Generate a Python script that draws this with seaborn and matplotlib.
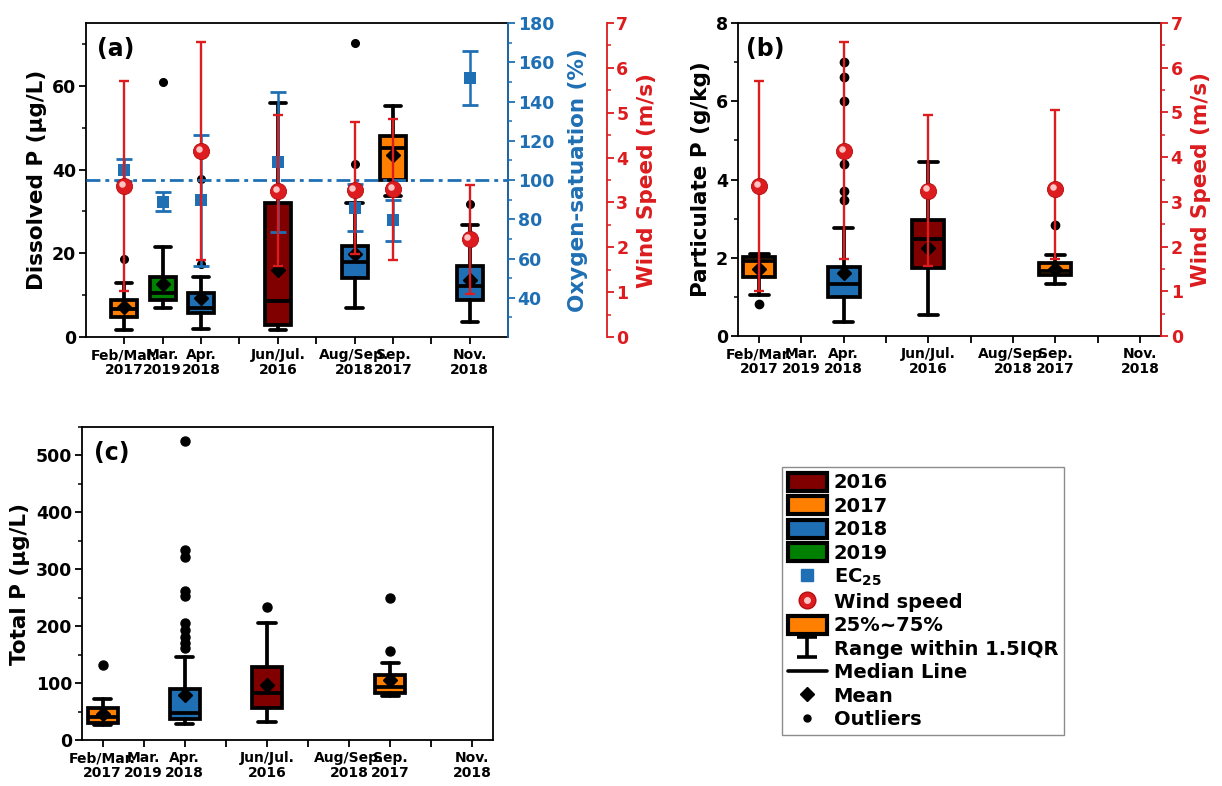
import numpy as np
import pandas as pd
import matplotlib
matplotlib.use("Agg")
import matplotlib.pyplot as plt
from matplotlib.path import Path
from matplotlib.patches import Patch
from matplotlib.lines import Line2D
from matplotlib.legend_handler import HandlerTuple
from matplotlib.ticker import MultipleLocator, FixedLocator
from matplotlib.transforms import ScaledTranslation
import seaborn as sns

# ---------------------------------------------------------------- data
period_names = ["Feb/Mar.\n2017", "Mar.\n2019", "Apr.\n2018", "Jun/Jul.\n2016",
                "Aug/Sep.\n2018", "Sep.\n2017", "Nov.\n2018"]
period_slots = [1, 2, 3, 5, 7, 8, 10]
year_colors = {2016: "#800000", 2017: "#ff8000", 2018: "#1f6fb4", 2019: "#008000"}

# (a) dissolved P, ug/L
dp_periods = period_names
dp_years = [2017, 2019, 2018, 2016, 2018, 2017, 2018]
dp_q1 = [4.9, 8.9, 5.7, 2.9, 14.2, 37.6, 8.8]
dp_med = [6.6, 10.5, 6.9, 8.6, 18.0, 45.1, 12.2]
dp_q3 = [8.8, 14.4, 10.6, 32.1, 21.8, 47.9, 17.0]
dp_mean = [7.2, 12.6, 9.4, 16.0, 19.8, 43.5, 13.6]
dp_low = [1.7, 6.9, 1.9, 1.8, 7.0, 33.6, 3.7]
dp_high = [12.8, 21.5, 14.4, 56.0, 32.0, 55.2, 26.7]
dp_outliers = [[18.6], [61.0], [17.5, 37.7], [], [41.3, 70.2], [], [31.8]]

# (a) EC25 oxygen saturation, %
ec_periods = period_names
ec_mean = [105.0, 89.0, 89.6, 109.2, 86.0, 79.4, 152.0]
ec_err = [5.5, 5.0, 33.5, 35.5, 12.0, 10.3, 14.0]

# (a) wind speed, m/s
wind_a_periods = ["Feb/Mar.\n2017", "Apr.\n2018", "Jun/Jul.\n2016",
                  "Aug/Sep.\n2018", "Sep.\n2017", "Nov.\n2018"]
wind_a_mean = [3.36, 4.14, 3.25, 3.27, 3.29, 2.19]
wind_a_low = [1.03, 1.72, 1.59, 1.85, 1.72, 0.95]
wind_a_high = [5.70, 6.57, 4.94, 4.80, 4.86, 3.40]

# (b) particulate P, g/kg
pp_periods = ["Feb/Mar.\n2017", "Apr.\n2018", "Jun/Jul.\n2016", "Sep.\n2017"]
pp_years = [2017, 2018, 2016, 2017]
pp_q1 = [1.52, 1.01, 1.75, 1.56]
pp_med = [1.92, 1.32, 2.47, 1.66]
pp_q3 = [2.03, 1.77, 2.97, 1.86]
pp_mean = [1.72, 1.62, 2.25, 1.72]
pp_low = [1.06, 0.37, 0.54, 1.33]
pp_high = [2.10, 2.77, 4.44, 2.07]
pp_outliers = [[0.82], [3.48, 3.71, 4.39, 6.0, 6.61, 7.0], [], [2.84]]

# (b) wind speed, m/s
wind_b_periods = pp_periods
wind_b_mean = [3.35, 4.14, 3.25, 3.29]
wind_b_low = [1.01, 1.72, 1.57, 1.73]
wind_b_high = [5.70, 6.58, 4.95, 5.06]

# (c) total P, ug/L
tp_periods = pp_periods
tp_years = [2017, 2018, 2016, 2017]
tp_q1 = [30.4, 36.3, 55.6, 83.0]
tp_med = [41.0, 48.0, 81.9, 93.6]
tp_q3 = [55.6, 88.9, 128.7, 114.0]
tp_mean = [45.6, 79.0, 96.5, 106.0]
tp_low = [26.3, 28.0, 31.0, 77.8]
tp_high = [71.3, 146.0, 206.4, 134.5]
tp_outliers = [[131.6], [161, 170, 181, 193, 206, 253, 262, 321, 334, 525],
               [234], [156.7, 249.7]]

# ---------------------------------------------------------------- style
sns.set_theme(style="ticks")
plt.rcParams.update({
    "font.family": ["DejaVu Sans"],
    "font.weight": "bold",
    "axes.labelweight": "bold",
    "mathtext.fontset": "custom",
    "mathtext.rm": "DejaVu Sans:bold",
    "mathtext.it": "DejaVu Sans:bold",
    "mathtext.bf": "DejaVu Sans:bold",
    "axes.linewidth": 1.3,
    "axes.edgecolor": "black",
    "axes.labelcolor": "black",
    "text.color": "black",
    "xtick.color": "black",
    "ytick.color": "black",
    "xtick.labelcolor": "black",
    "ytick.labelcolor": "black",
})

BLUE = "#1f6fb4"
RED = "#dc1c1f"
LABEL_SIZE = 15.5
TICK_SIZE = 12.5
slot_of = dict(zip(period_names, period_slots))

fig = plt.figure(figsize=(12.22, 7.86), dpi=100)
ax_a = fig.add_axes([0.0704, 0.5712, 0.3453, 0.3995])
ax_b = fig.add_axes([0.6039, 0.5725, 0.3462, 0.3982])
ax_c = fig.add_axes([0.0671, 0.0585, 0.3363, 0.3982])


def draw_boxes(ax, periods, years, q1, med, q3, mean, low, high, outliers,
               width, capw, flier_size):
    stats = [dict(q1=a, med=b, q3=c, mean=d, whislo=e, whishi=f, fliers=g)
             for a, b, c, d, e, f, g in zip(q1, med, q3, mean, low, high, outliers)]
    lw = 2.7
    art = ax.bxp(stats, positions=[slot_of[p] for p in periods], widths=width,
                 capwidths=capw, patch_artist=True, showmeans=True,
                 manage_ticks=False,
                 boxprops=dict(edgecolor="black", linewidth=lw),
                 medianprops=dict(color="black", linewidth=lw),
                 whiskerprops=dict(color="black", linewidth=lw),
                 capprops=dict(color="black", linewidth=lw),
                 meanprops=dict(marker="D", markerfacecolor="black",
                                markeredgecolor="black", markersize=7),
                 flierprops=dict(marker="o", markerfacecolor="black",
                                 markeredgecolor="black", markersize=flier_size))
    for patch, yr in zip(art["boxes"], years):
        patch.set_facecolor(year_colors[yr])
    return art


def style_x(ax, lo, hi):
    ax.set_xlim(lo, hi)
    ax.xaxis.set_major_locator(FixedLocator(range(1, 11)))
    labels = [""] * 10
    for name, slot in zip(period_names, period_slots):
        labels[slot - 1] = name
    ax.set_xticklabels(labels, fontsize=10, fontweight="bold", linespacing=1.05,
                       color="black")
    ax.tick_params(axis="x", direction="out", length=5, width=1.3, pad=3)
    ax.set_xlabel("")


def style_y(ax, color="black"):
    ax.tick_params(axis="y", which="major", direction="out", length=5, width=1.3,
                   labelsize=TICK_SIZE, colors=color, pad=2)
    ax.tick_params(axis="y", which="minor", direction="out", length=3, width=1.1,
                   colors=color)
    for lab in ax.get_yticklabels():
        lab.set_fontweight("bold")


def wind_layer(ax, periods, mean, low, high):
    xs = [slot_of[p] for p in periods]
    mean = np.asarray(mean)
    err = [mean - np.asarray(low), np.asarray(high) - mean]
    ax.errorbar(xs, mean, yerr=err, fmt="none", ecolor=RED, elinewidth=1.7,
                capsize=3.5, capthick=1.7, zorder=4)
    df = pd.DataFrame({"slot": xs, "speed": mean})
    sns.scatterplot(data=df, x="slot", y="speed", ax=ax, color=RED, s=135,
                    edgecolor="#b30d10", linewidth=0.6, zorder=5, legend=False)
    shine = ax.transData + ScaledTranslation(-1.6 / 72, 1.6 / 72, fig.dpi_scale_trans)
    ax.scatter(xs, mean, s=22, color="#ffc4c4", linewidth=0, zorder=6,
               transform=shine)
    ax.set_xlabel("")


def wind_axis(ax):
    ax.set_ylim(0, 7)
    ax.yaxis.set_major_locator(MultipleLocator(1))
    ax.yaxis.set_minor_locator(MultipleLocator(0.5))
    style_y(ax, RED)
    ax.set_ylabel("Wind Speed (m/s)", color=RED, fontsize=LABEL_SIZE,
                  fontweight="bold", labelpad=6)
    for s in ("left", "top", "bottom"):
        ax.spines[s].set_visible(False)
    ax.spines["right"].set_color(RED)
    ax.spines["right"].set_linewidth(1.3)


# ---------------------------------------------------------------- panel (a)
draw_boxes(ax_a, dp_periods, dp_years, dp_q1, dp_med, dp_q3, dp_mean, dp_low,
           dp_high, dp_outliers, width=0.68, capw=0.42, flier_size=5.5)
ax_a.set_ylim(0, 75)
ax_a.yaxis.set_major_locator(MultipleLocator(20))
ax_a.yaxis.set_minor_locator(MultipleLocator(10))
style_x(ax_a, 0, 11)
style_y(ax_a)
ax_a.set_ylabel("Dissolved P (\u03bcg/L)", fontsize=LABEL_SIZE, fontweight="bold",
                labelpad=4)
ax_a.text(0.025, 0.955, "(a)", transform=ax_a.transAxes, fontsize=17,
          fontweight="bold", va="top", ha="left")

ax_o = ax_a.twinx()
ax_o.axhline(100, color=BLUE, linewidth=2.0, dashes=(5, 1.8, 1.4, 1.8), zorder=2)
ec_x = [slot_of[p] for p in ec_periods]
ax_o.errorbar(ec_x, ec_mean, yerr=ec_err, fmt="none", ecolor=BLUE, elinewidth=1.8,
              capsize=5.5, capthick=2.0, zorder=3)
sns.scatterplot(data=pd.DataFrame({"slot": ec_x, "ec": ec_mean}), x="slot", y="ec",
                ax=ax_o, marker="s", color=BLUE, s=80, linewidth=0, zorder=3,
                legend=False)
ax_o.set_ylim(20, 180)
ax_o.yaxis.set_major_locator(FixedLocator(range(40, 181, 20)))
ax_o.yaxis.set_minor_locator(FixedLocator(range(30, 180, 20)))
style_y(ax_o, BLUE)
ax_o.set_xlabel("")
ax_o.set_ylabel("Oxygen-satuation (%)", color=BLUE, fontsize=LABEL_SIZE,
                fontweight="bold", labelpad=10)
for s in ("left", "top", "bottom"):
    ax_o.spines[s].set_visible(False)
ax_o.spines["right"].set_color(BLUE)
ax_o.spines["right"].set_linewidth(1.3)

ax_w = ax_a.twinx()
ax_w.spines["right"].set_position(("outward", 71))
wind_layer(ax_w, wind_a_periods, wind_a_mean, wind_a_low, wind_a_high)
wind_axis(ax_w)
ax_w.set_xlim(0, 11)
ax_o.set_xlim(0, 11)

# ---------------------------------------------------------------- panel (b)
draw_boxes(ax_b, pp_periods, pp_years, pp_q1, pp_med, pp_q3, pp_mean, pp_low,
           pp_high, pp_outliers, width=0.75, capw=0.45, flier_size=6)
ax_b.set_ylim(0, 8)
ax_b.yaxis.set_major_locator(MultipleLocator(2))
ax_b.yaxis.set_minor_locator(MultipleLocator(1))
style_x(ax_b, 0.5, 10.5)
style_y(ax_b)
ax_b.set_ylabel("Particulate P (g/kg)", fontsize=LABEL_SIZE, fontweight="bold",
                labelpad=4)
ax_b.text(0.02, 0.955, "(b)", transform=ax_b.transAxes, fontsize=17,
          fontweight="bold", va="top", ha="left")
ax_bw = ax_b.twinx()
wind_layer(ax_bw, wind_b_periods, wind_b_mean, wind_b_low, wind_b_high)
wind_axis(ax_bw)
ax_bw.set_xlim(0.5, 10.5)

# ---------------------------------------------------------------- panel (c)
draw_boxes(ax_c, tp_periods, tp_years, tp_q1, tp_med, tp_q3, tp_mean, tp_low,
           tp_high, tp_outliers, width=0.73, capw=0.42, flier_size=6.5)
ax_c.set_ylim(0, 550)
ax_c.yaxis.set_major_locator(MultipleLocator(100))
ax_c.yaxis.set_minor_locator(MultipleLocator(50))
style_x(ax_c, 0.5, 10.5)
style_y(ax_c)
ax_c.set_ylabel("Total P (\u03bcg/L)", fontsize=LABEL_SIZE, fontweight="bold",
                labelpad=4)
ax_c.text(0.03, 0.955, "(c)", transform=ax_c.transAxes, fontsize=17,
          fontweight="bold", va="top", ha="left")

# ---------------------------------------------------------------- legend
whisker_glyph = Path([(-1, 1), (1, 1), (0, 1), (0, -1), (-1, -1), (1, -1)],
                     [Path.MOVETO, Path.LINETO, Path.MOVETO, Path.LINETO,
                      Path.MOVETO, Path.LINETO])
handles = [Patch(facecolor=year_colors[y], edgecolor="black", linewidth=3)
           for y in (2016, 2017, 2018, 2019)]
handles += [
    Line2D([], [], marker="s", color=BLUE, linestyle="none", markersize=9),
    (Line2D([], [], marker="o", color=RED, markeredgecolor="#b30d10",
            linestyle="none", markersize=12),
     Line2D([], [], marker="o", color="#ffc4c4", linestyle="none", markersize=4)),
    Patch(facecolor=year_colors[2017], edgecolor="black", linewidth=3),
    Line2D([], [], marker=whisker_glyph, color="black", fillstyle="none",
           markeredgewidth=2.6, markersize=15, linestyle="none"),
    Line2D([], [], color="black", linewidth=2.6),
    Line2D([], [], marker="D", color="black", linestyle="none", markersize=7),
    Line2D([], [], marker="o", color="black", linestyle="none", markersize=5),
]
labels = ["2016", "2017", "2018", "2019", "EC$_{25}$", "Wind speed", "25%~75%",
          "Range within 1.5IQR", "Median Line", "Mean", "Outliers"]
leg = fig.legend(handles, labels, loc="upper left", bbox_to_anchor=(0.640, 0.406),
                 bbox_transform=fig.transFigure, frameon=True, fancybox=False,
                 edgecolor="#8c8c8c", framealpha=1,
                 prop={"size": 14, "weight": "bold"}, handlelength=2.0,
                 handleheight=1.05, labelspacing=0.2, handletextpad=0.35,
                 borderpad=0.3, borderaxespad=0,
                 handler_map={tuple: HandlerTuple(ndivide=1)})
leg.get_frame().set_linewidth(1.0)
for t in leg.get_texts():
    t.set_color("black")

fig.savefig("out.png", dpi=100)
